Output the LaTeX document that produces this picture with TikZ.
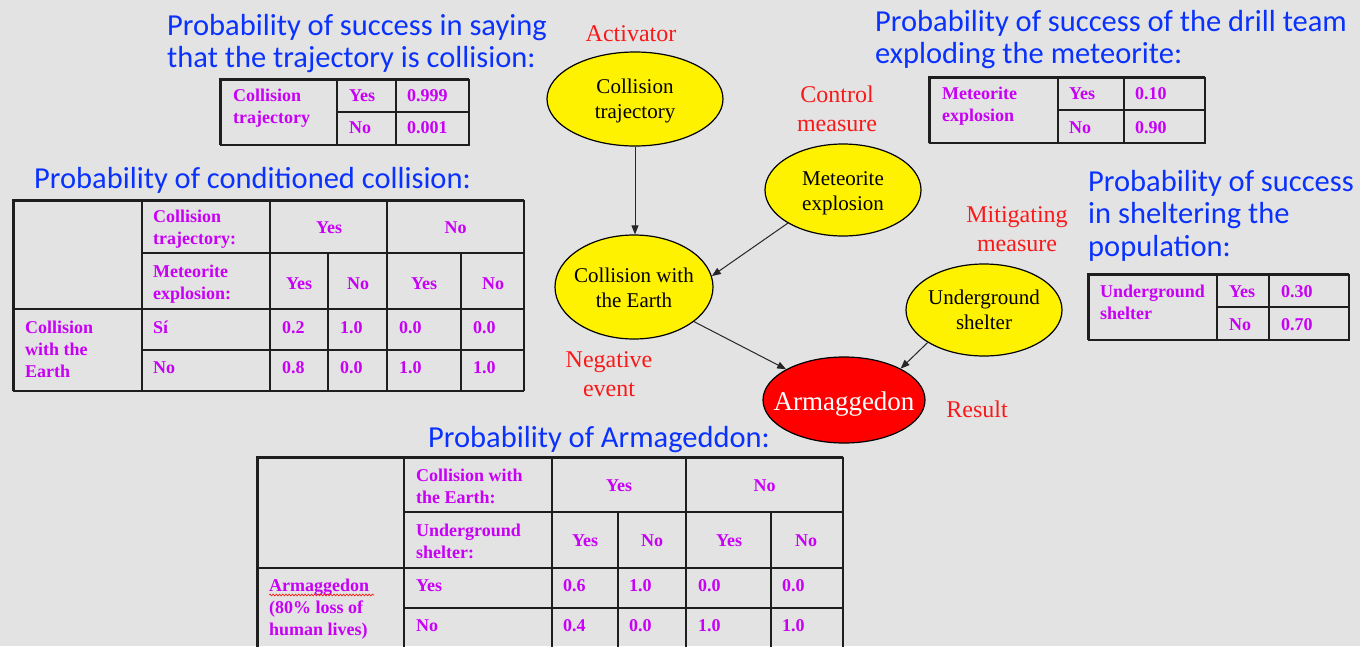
\documentclass[tikz,border=0pt]{standalone}
\usepackage{fontspec}
\setmainfont{Liberation Serif}
\newfontfamily\titlefont{Carlito}
\usetikzlibrary{arrows.meta,shapes.geometric,decorations.pathmorphing}

\definecolor{slidebg}{RGB}{227,227,227}
\definecolor{titleblue}{RGB}{10,50,252}
\definecolor{cellviolet}{RGB}{200,0,245}
\definecolor{rolered}{RGB}{250,25,25}
\definecolor{gridgray}{RGB}{30,30,30}

% stacked lines whose baseline is the baseline of the first line
\newcommand\stackL[1]{\begin{tabular}[t]{@{}l@{}}#1\end{tabular}}
\newcommand\stackC[1]{\begin{tabular}[t]{@{}c@{}}#1\end{tabular}}
% ellipse label of zero size: first baseline sits #1 above the centre,
% so the ellipse keeps its given size
\newcommand\etext[2]{\makebox[0pt]{\raisebox{#1}[0pt][0pt]{\stackC{#2}}}}

\tikzset{
  title/.style={anchor=base west, inner sep=0pt, text=titleblue,
    font=\titlefont\fontsize{30.5}{32.5}\selectfont},
  cell/.style={anchor=base west, inner sep=0pt, text=cellviolet,
    font=\bfseries\fontsize{18}{22}\selectfont},
  cellc/.style={cell, anchor=base},
  role/.style={anchor=base, inner sep=0pt, text=rolered,
    font=\fontsize{24}{29}\selectfont},
  event/.style={ellipse, draw=black, line width=1.2pt, fill=yellow,
    inner sep=0pt, font=\fontsize{21}{25}\selectfont},
  outcome/.style={event, fill=red, text=white, font=\fontsize{27}{30}\selectfont},
  link/.style={-{Triangle[length=9pt,width=7pt]}, line width=1pt, draw=black!85},
  grid/.style={line width=1.4pt, draw=gridgray},
  thickedge/.style={line width=3pt, draw=gridgray},
}

\begin{document}
\begin{tikzpicture}[x=1pt,y=-1pt]
\path[use as bounding box, fill=slidebg] (0,0) rectangle (1360,646);
\clip (0,0) rectangle (1360,646);

% ---------------- titles ----------------
\node[title] (t1) at (167,35) {\stackL{Probability of success in saying\\that the trajectory is collision:}};
\node[title] (t2) at (34,188) {Probability of conditioned collision:};
\node[title] (t3) at (875,31) {\stackL{Probability of success of the drill team\\exploding the meteorite:}};
\node[title] (t4) at (1088,191) {\stackL{Probability of success\\in sheltering the\\population:}};
\node[title] (t5) at (428,447) {Probability of Armageddon:};

% ---------------- table: collision trajectory ----------------
\draw[grid] (337,79) -- (337,145) (396,79) -- (396,145) (337,112) -- (469,112);
\draw[grid] (220,145) -- (469,145) -- (469,79);
\draw[thickedge] (220,145) -- (220,79) -- (469,79);
\node[cell] (a1) at (233,101) {\stackL{Collision\\trajectory}};
\node[cell] (a2) at (349,101) {Yes};
\node[cell] (a3) at (407,101) {0.999};
\node[cell] (a4) at (349,133) {No};
\node[cell] (a5) at (407,133) {0.001};

% ---------------- table: meteorite explosion ----------------
\draw[grid] (1058,77) -- (1058,143) (1124,77) -- (1124,143) (1058,110) -- (1205,110);
\draw[grid] (929,143) -- (1205,143) -- (1205,77);
\draw[thickedge] (929,143) -- (929,77) -- (1205,77);
\node[cell] (m1) at (942,99) {\stackL{Meteorite\\explosion}};
\node[cell] (m2) at (1069,99) {Yes};
\node[cell] (m3) at (1135,99) {0.10};
\node[cell] (m4) at (1069,133) {No};
\node[cell] (m5) at (1135,133) {0.90};

% ---------------- table: underground shelter ----------------
\draw[grid] (1217,274) -- (1217,340) (1269,274) -- (1269,340) (1217,307) -- (1349,307);
\draw[grid] (1088,340) -- (1349,340) -- (1349,274);
\draw[thickedge] (1088,340) -- (1088,274) -- (1349,274);
\node[cell] (s1) at (1100,297) {\stackL{Underground\\shelter}};
\node[cell] (s2) at (1229,297) {Yes};
\node[cell] (s3) at (1281,297) {0.30};
\node[cell] (s4) at (1229,330) {No};
\node[cell] (s5) at (1281,330) {0.70};

% ---------------- table: conditioned collision ----------------
\draw[grid] (142,200) -- (142,391) (270,200) -- (270,391) (387,200) -- (387,391)
            (328,253) -- (328,391) (461,253) -- (461,391)
            (142,253) -- (524,253) (13,309) -- (524,309) (142,350) -- (524,350);
\draw[grid] (13,391) -- (524,391);
\draw[line width=2pt, draw=gridgray] (524,391) -- (524,200);
\draw[thickedge] (13,391) -- (13,200) -- (524,200);
\node[cell]  (c1)  at (153,222) {\stackL{Collision\\trajectory:}};
\node[cellc] (c2)  at (329,233) {Yes};
\node[cellc] (c3)  at (455.5,233) {No};
\node[cell]  (c4)  at (153,277) {\stackL{Meteorite\\explosion:}};
\node[cellc] (c5)  at (299,289) {Yes};
\node[cellc] (c6)  at (358,289) {No};
\node[cellc] (c7)  at (424,289) {Yes};
\node[cellc] (c8)  at (493,289) {No};
\node[cell]  (c9)  at (25,333) {\stackL{Collision\\with the\\Earth}};
\node[cell]  (c10) at (153,333) {Sí};
\node[cell]  (c11) at (282,333) {0.2};
\node[cell]  (c12) at (340,333) {1.0};
\node[cell]  (c13) at (399,333) {0.0};
\node[cell]  (c14) at (473,333) {0.0};
\node[cell]  (c15) at (153,373) {No};
\node[cell]  (c16) at (282,373) {0.8};
\node[cell]  (c17) at (340,373) {0.0};
\node[cell]  (c18) at (399,373) {1.0};
\node[cell]  (c19) at (473,373) {1.0};

% ---------------- table: Armageddon ----------------
\draw[grid] (404,457) -- (404,660) (552,457) -- (552,660) (686,457) -- (686,660)
            (618,512) -- (618,660) (771,512) -- (771,660)
            (404,512) -- (843,512) (257,568) -- (843,568) (404,608) -- (843,608);
\draw[line width=2pt, draw=gridgray] (843,660) -- (843,457);
\draw[thickedge] (257,660) -- (257,457) -- (843,457);
\node[cell]  (r1)  at (416,481) {\stackL{Collision with\\the Earth:}};
\node[cellc] (r2)  at (619,491) {Yes};
\node[cellc] (r3)  at (764.5,491) {No};
\node[cell]  (r4)  at (416,536) {\stackL{Underground\\shelter:}};
\node[cellc] (r5)  at (585,546) {Yes};
\node[cellc] (r6)  at (652,546) {No};
\node[cellc] (r7)  at (729,546) {Yes};
\node[cellc] (r8)  at (806,546) {No};
\node[cell]  (r9)  at (269,591) {\stackL{Armaggedon\\(80\% loss of\\human lives)}};
\node[cell]  (r10) at (416,591) {Yes};
\node[cell]  (r11) at (563,591) {0.6};
\node[cell]  (r12) at (629,591) {1.0};
\node[cell]  (r13) at (698,591) {0.0};
\node[cell]  (r14) at (782,591) {0.0};
\node[cell]  (r15) at (416,631) {No};
\node[cell]  (r16) at (563,631) {0.4};
\node[cell]  (r17) at (629,631) {0.0};
\node[cell]  (r18) at (698,631) {1.0};
\node[cell]  (r19) at (782,631) {1.0};
% spelling mark under the word
\draw[red!90!orange, line width=0.6pt, decorate,
      decoration={snake, amplitude=0.9pt, segment length=3.2pt}] (269,595) -- (374,595);

% ---------------- network ----------------
\node[event, minimum width=176pt, minimum height=94pt] (traj)    at (635,99)  {\etext{6pt}{Collision\\trajectory}};
\node[event, minimum width=158pt, minimum height=104pt] (earth)  at (634,287) {\etext{5pt}{Collision with\\the Earth}};
\node[event, minimum width=156pt, minimum height=92pt] (meteor)  at (843,190) {\etext{5pt}{Meteorite\\explosion}};
\node[event, minimum width=156pt, minimum height=92pt] (shelter) at (984,310) {\etext{6pt}{Underground\\shelter}};
\node[outcome, minimum width=162pt, minimum height=86pt] (armag)  at (844,400) {\etext{-10pt}{Armaggedon}};

\draw[link] (traj.south) -- (traj.south |- earth.north);
\draw[link] (meteor.211) -- (earth.8);
\draw[link] (earth.330) -- (armag.152);
\draw[link] (shelter.210) -- (armag.29);

% ---------------- roles ----------------
\node[role] (activator) at (631,41)   {Activator};
\node[role] (control)   at (837,102)  {\stackC{Control\\measure}};
\node[role] (mitigate)  at (1017,222) {\stackC{Mitigating\\measure}};
\node[role] (negative)  at (609,367)  {\stackC{Negative\\event}};
\node[role] (result)    at (977,417)  {Result};
\end{tikzpicture}
\end{document}
